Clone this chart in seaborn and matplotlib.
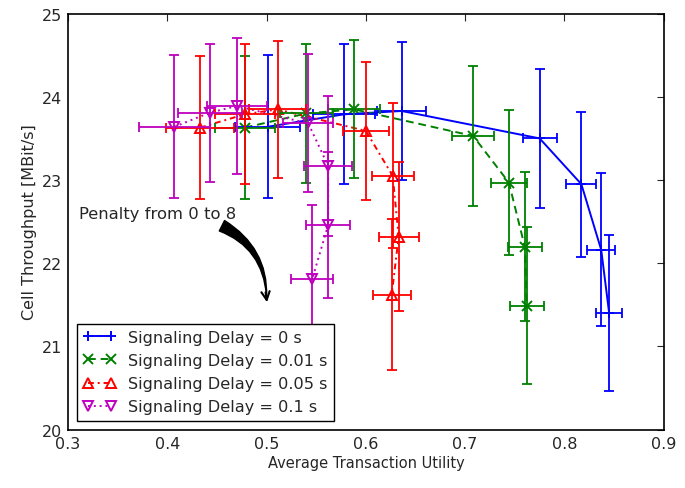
import numpy as np
import pandas as pd
import matplotlib
matplotlib.use("Agg")
import matplotlib.pyplot as plt
import seaborn as sns

# values, one entry per penalty step
labels = ["Signaling Delay = 0 s", "Signaling Delay = 0.01 s",
          "Signaling Delay = 0.05 s", "Signaling Delay = 0.1 s"]

x_0 = [0.501, 0.578, 0.636, 0.775, 0.817, 0.837, 0.845]
y_0 = [23.64, 23.79, 23.83, 23.50, 22.95, 22.16, 21.40]
xerr_0 = [0.033, 0.031, 0.025, 0.017, 0.015, 0.014, 0.013]
yerr_0 = [0.86, 0.84, 0.83, 0.84, 0.87, 0.92, 0.94]

x_001 = [0.478, 0.540, 0.588, 0.708, 0.744, 0.760, 0.762]
y_001 = [23.63, 23.80, 23.85, 23.53, 22.97, 22.20, 21.49]
xerr_001 = [0.030, 0.027, 0.026, 0.021, 0.018, 0.017, 0.017]
yerr_001 = [0.86, 0.84, 0.83, 0.84, 0.87, 0.90, 0.94]

x_005 = [0.433, 0.478, 0.511, 0.600, 0.627, 0.633, 0.626]
y_005 = [23.63, 23.79, 23.85, 23.59, 23.05, 22.32, 21.62]
xerr_005 = [0.034, 0.030, 0.029, 0.023, 0.021, 0.020, 0.019]
yerr_005 = [0.86, 0.84, 0.82, 0.83, 0.87, 0.90, 0.91]

x_01 = [0.407, 0.443, 0.470, 0.542, 0.562, 0.562, 0.546]
y_01 = [23.64, 23.81, 23.89, 23.68, 23.17, 22.46, 21.81]
xerr_01 = [0.036, 0.032, 0.030, 0.025, 0.024, 0.022, 0.021]
yerr_01 = [0.86, 0.83, 0.82, 0.83, 0.84, 0.88, 0.89]

xs = [x_0, x_001, x_005, x_01]
ys = [y_0, y_001, y_005, y_01]
xerrs = [xerr_0, xerr_001, xerr_005, xerr_01]
yerrs = [yerr_0, yerr_001, yerr_005, yerr_01]

colors = ["#0000ff", "#008000", "#ff0000", "#bf00bf"]
markers = ["+", "x", "^", "v"]
linestyles = ["-", (0, (4, 2.5)), (0, (3, 2, 1, 2)), (0, (1, 2))]

sns.set_style("white")
plt.rcParams["font.family"] = ["DejaVu Sans"]
plt.rcParams.update({
    "xtick.direction": "in", "ytick.direction": "in",
    "xtick.top": True, "ytick.right": True,
    "xtick.major.size": 5, "ytick.major.size": 5,
    "xtick.major.pad": 4.5, "ytick.major.pad": 4,
    "xtick.labelsize": 11.5, "ytick.labelsize": 11.5,
    "axes.edgecolor": "black", "axes.linewidth": 1.2,
    "font.size": 12,
})

fig, ax = plt.subplots(figsize=(6.85, 4.89), dpi=100)
fig.subplots_adjust(left=0.0993, right=0.969, top=0.970, bottom=0.1196)

lines = []
for x, y, lab, c, m, ls in zip(xs, ys, labels, colors, markers, linestyles):
    df = pd.DataFrame({"utility": x, "throughput": y})
    mfc = "none" if m in ("^", "v") else c
    sns.lineplot(data=df, x="utility", y="throughput", sort=False, estimator=None,
                 color=c, marker=m, linestyle=ls, linewidth=1.4, markersize=7,
                 markerfacecolor=mfc, markeredgecolor=c, markeredgewidth=1.4,
                 ax=ax)
    line = ax.get_lines()[-1]
    line.set_label(lab)
    lines.append(line)

for x, y, xe, ye, c in zip(xs, ys, xerrs, yerrs, colors):
    ax.errorbar(x, y, xerr=xe, yerr=ye, fmt="none", ecolor=c,
                elinewidth=1.3, capsize=3.5, capthick=1.3)

ax.set_xlim(0.3, 0.9)
ax.set_ylim(20, 25)
ax.set_xticks(np.arange(0.3, 0.91, 0.1))
ax.set_yticks(range(20, 26))
ax.set_xlabel("Average Transaction Utility", fontsize=10.5, labelpad=3)
ax.set_ylabel("Cell Throughput [MBit/s]", fontsize=11.5, labelpad=4)

ax.text(0.311, 22.60, "Penalty from 0 to 8", ha="left", va="center", fontsize=11.8)
ax.annotate("", xy=(0.500, 21.60), xytext=(0.455, 22.45),
            arrowprops=dict(arrowstyle="wedge,tail_width=0.7,shrink_factor=0.4",
                            connectionstyle="arc3,rad=-0.3", color="black",
                            shrinkA=0, shrinkB=0))
ax.annotate("", xy=(0.5004, 21.53), xytext=(0.499, 21.65),
            arrowprops=dict(arrowstyle="->,head_length=0.5,head_width=0.25",
                            color="black", lw=1.5, shrinkA=0, shrinkB=0))

ax.legend(handles=lines, labels=labels, loc="lower left", numpoints=2,
          fancybox=False, framealpha=1, edgecolor="black", fontsize=11.6,
          handlelength=2.0, handletextpad=0.8, labelspacing=0.5,
          borderpad=0.4, borderaxespad=0.55)

fig.savefig("out.png", dpi=100)
